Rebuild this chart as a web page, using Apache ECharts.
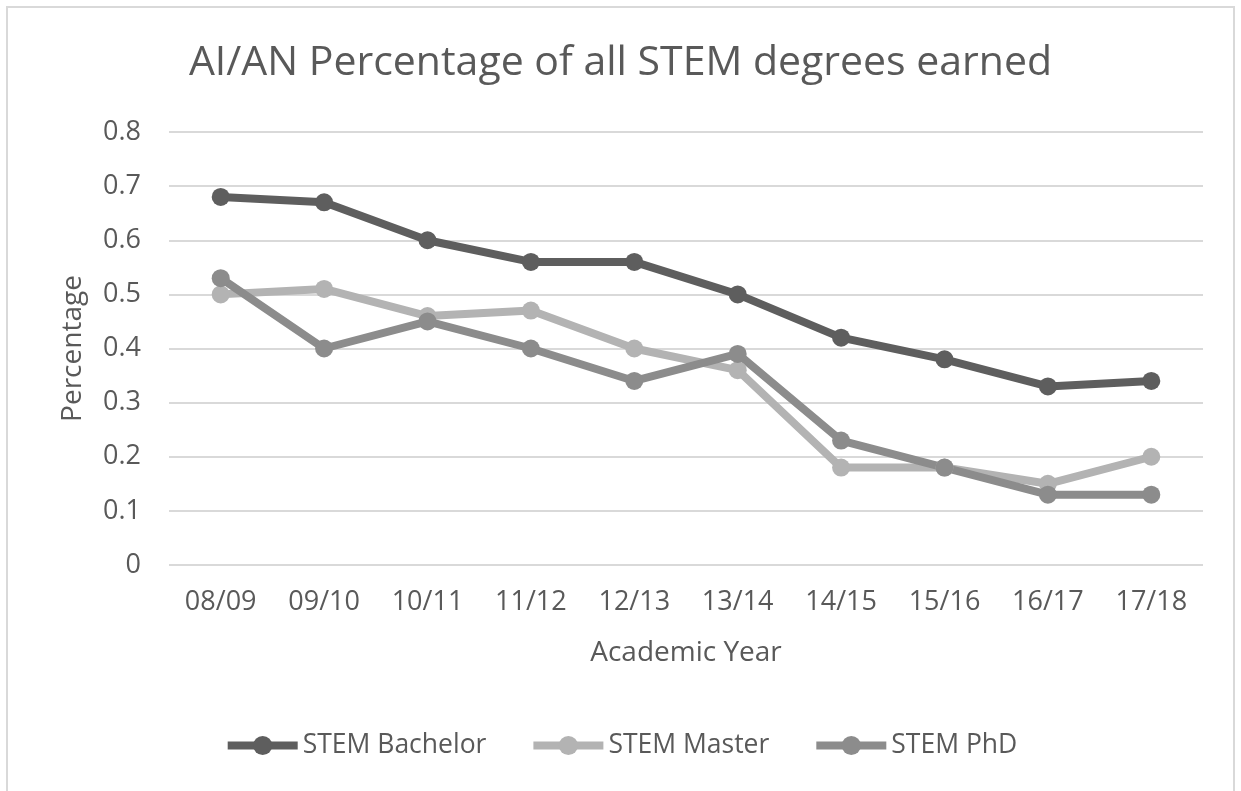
<!DOCTYPE html>
<html><head><meta charset="utf-8">
<script src="https://cdn.jsdelivr.net/npm/echarts@6/dist/echarts.min.js"></script>
<style>
html,body{margin:0;padding:0;background:#fff;}
#frame{position:absolute;left:6px;top:6px;width:1229px;height:790px;border:2px solid #d9d9d9;box-sizing:border-box;}
#c{position:absolute;left:0;top:0;width:1241px;height:791px;}
</style></head>
<body>
<div id="frame"></div>
<div id="c"></div>
<script>
const categories = ['08/09','09/10','10/11','11/12','12/13','13/14','14/15','15/16','16/17','17/18'];
const bachelor = [0.68,0.67,0.60,0.56,0.56,0.50,0.42,0.38,0.33,0.34];
const master = [0.50,0.51,0.46,0.47,0.40,0.36,0.18,0.18,0.15,0.20];
const phd = [0.53,0.40,0.45,0.40,0.34,0.39,0.23,0.18,0.13,0.13];
const yTicks = ['0','0.1','0.2','0.3','0.4','0.5','0.6','0.7','0.8'];

const font = '"Open Sans", "Noto Sans", sans-serif';
const chart = echarts.init(document.getElementById('c'));
function ser(name, data, color){
  return {name, type:'line', data, symbol:'circle', symbolSize:18,
    lineStyle:{width:8,color}, itemStyle:{color}, emphasis:{disabled:true}};
}
chart.setOption({
  animation:false,
  textStyle:{fontFamily:font},
  title:{text:'AI/AN Percentage of all STEM degrees earned', left:'center', top:38,
    textStyle:{fontFamily:font, fontSize:41, fontWeight:'normal', color:'#595959'}},
  grid:{left:169, right:38, top:132, bottom:226, containLabel:false},
  legend:{top:727, left:'center', itemWidth:70, itemHeight:24, itemGap:43,
    lineStyle:{width:8},
    textStyle:{fontFamily:font, fontSize:26.5, color:'#595959', padding:[0,0,0,0]},
    data:['STEM Bachelor','STEM Master','STEM PhD']},
  xAxis:{type:'category', data:categories, boundaryGap:true,
    axisLine:{show:false}, axisTick:{show:false},
    axisLabel:{fontSize:27, color:'#595959', margin:24},
    name:'Academic Year', nameLocation:'middle', nameGap:74,
    nameTextStyle:{fontSize:28, color:'#595959'}},
  yAxis:{type:'value', min:0, max:0.8, interval:0.1,
    axisLabel:{fontSize:27, color:'#595959', margin:28,
      formatter:(v)=>yTicks[Math.round(v*10)]},
    splitLine:{lineStyle:{color:'#d9d9d9', width:2}},
    name:'Percentage', nameLocation:'middle', nameGap:82,
    nameTextStyle:{fontSize:28, color:'#595959'}},
  series:[ser('STEM Bachelor',bachelor,'#5e5e5e'), ser('STEM Master',master,'#b3b3b3'), ser('STEM PhD',phd,'#8c8c8c')]
});
</script>
</body></html>
